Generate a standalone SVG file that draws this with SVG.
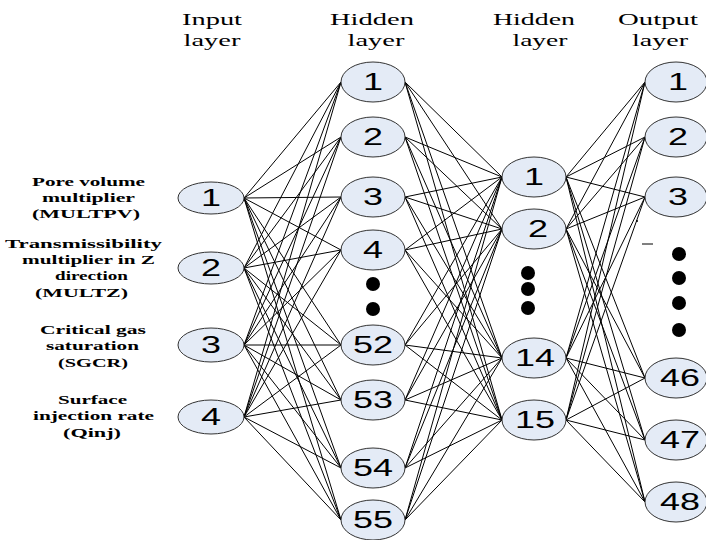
<svg xmlns="http://www.w3.org/2000/svg" width="706" height="540" viewBox="0 0 706 540">
<style>
.hdr{font-family:"Liberation Serif","Times New Roman",serif;font-size:17px;fill:#000;text-anchor:middle}
.lbl{font-family:"Liberation Serif","Times New Roman",serif;font-size:13.5px;font-weight:bold;fill:#000;text-anchor:middle}
.nd ellipse{fill:#E4EBF6;stroke:#333;stroke-width:1}
.nd text{font-family:"Liberation Sans",Arial,sans-serif;font-size:23px;fill:#000;text-anchor:middle}
.cn line{stroke:#000;stroke-width:1}
.dot{fill:#000}
</style>
<rect width="706" height="540" fill="#fff"/>
<g id="headers">
<text class="hdr" x="212" y="25" textLength="60" lengthAdjust="spacingAndGlyphs">Input</text>
<text class="hdr" x="212" y="46" textLength="57" lengthAdjust="spacingAndGlyphs">layer</text>
<text class="hdr" x="372" y="25" textLength="84" lengthAdjust="spacingAndGlyphs">Hidden</text>
<text class="hdr" x="376" y="46" textLength="57" lengthAdjust="spacingAndGlyphs">layer</text>
<text class="hdr" x="534" y="25" textLength="82" lengthAdjust="spacingAndGlyphs">Hidden</text>
<text class="hdr" x="540" y="46" textLength="55" lengthAdjust="spacingAndGlyphs">layer</text>
<text class="hdr" x="658" y="25" textLength="80" lengthAdjust="spacingAndGlyphs">Output</text>
<text class="hdr" x="660" y="46" textLength="56" lengthAdjust="spacingAndGlyphs">layer</text>
</g>
<g id="labels">
<text class="lbl" x="88.5" y="186" textLength="113" lengthAdjust="spacingAndGlyphs">Pore volume</text>
<text class="lbl" x="88.5" y="202" textLength="93" lengthAdjust="spacingAndGlyphs">multiplier</text>
<text class="lbl" x="86" y="218" textLength="108" lengthAdjust="spacingAndGlyphs">(MULTPV)</text>
<text class="lbl" x="83.5" y="248" textLength="157" lengthAdjust="spacingAndGlyphs">Transmissibility</text>
<text class="lbl" x="88.5" y="264" textLength="133" lengthAdjust="spacingAndGlyphs">multiplier in Z</text>
<text class="lbl" x="91.5" y="280" textLength="73" lengthAdjust="spacingAndGlyphs">direction</text>
<text class="lbl" x="81.5" y="297" textLength="93" lengthAdjust="spacingAndGlyphs">(MULTZ)</text>
<text class="lbl" x="93" y="334" textLength="106" lengthAdjust="spacingAndGlyphs">Critical gas</text>
<text class="lbl" x="92.5" y="350" textLength="93" lengthAdjust="spacingAndGlyphs">saturation</text>
<text class="lbl" x="93" y="367" textLength="70" lengthAdjust="spacingAndGlyphs">(SGCR)</text>
<text class="lbl" x="92.5" y="404" textLength="69" lengthAdjust="spacingAndGlyphs">Surface</text>
<text class="lbl" x="93.5" y="420" textLength="121" lengthAdjust="spacingAndGlyphs">injection rate</text>
<text class="lbl" x="92" y="437" textLength="58" lengthAdjust="spacingAndGlyphs">(Qinj)</text>
</g>
<g id="connectors" class="cn">
<line x1="244" y1="198" x2="341" y2="82"/><line x1="244" y1="198" x2="341" y2="137"/><line x1="244" y1="198" x2="341" y2="197"/><line x1="244" y1="198" x2="341" y2="250"/><line x1="244" y1="198" x2="341" y2="345"/><line x1="244" y1="198" x2="341" y2="400"/><line x1="244" y1="198" x2="341" y2="468"/><line x1="244" y1="198" x2="341" y2="520"/>
<line x1="244" y1="268" x2="341" y2="82"/><line x1="244" y1="268" x2="341" y2="137"/><line x1="244" y1="268" x2="341" y2="197"/><line x1="244" y1="268" x2="341" y2="250"/><line x1="244" y1="268" x2="341" y2="345"/><line x1="244" y1="268" x2="341" y2="400"/><line x1="244" y1="268" x2="341" y2="468"/><line x1="244" y1="268" x2="341" y2="520"/>
<line x1="244" y1="345" x2="341" y2="82"/><line x1="244" y1="345" x2="341" y2="137"/><line x1="244" y1="345" x2="341" y2="197"/><line x1="244" y1="345" x2="341" y2="250"/><line x1="244" y1="345" x2="341" y2="345"/><line x1="244" y1="345" x2="341" y2="400"/><line x1="244" y1="345" x2="341" y2="468"/><line x1="244" y1="345" x2="341" y2="520"/>
<line x1="244" y1="417" x2="341" y2="82"/><line x1="244" y1="417" x2="341" y2="137"/><line x1="244" y1="417" x2="341" y2="197"/><line x1="244" y1="417" x2="341" y2="250"/><line x1="244" y1="417" x2="341" y2="345"/><line x1="244" y1="417" x2="341" y2="400"/><line x1="244" y1="417" x2="341" y2="468"/><line x1="244" y1="417" x2="341" y2="520"/>
<line x1="405" y1="82" x2="502" y2="177"/><line x1="405" y1="82" x2="502" y2="229"/><line x1="405" y1="82" x2="502" y2="358"/><line x1="405" y1="82" x2="502" y2="420"/>
<line x1="405" y1="137" x2="502" y2="177"/><line x1="405" y1="137" x2="502" y2="229"/><line x1="405" y1="137" x2="502" y2="358"/><line x1="405" y1="137" x2="502" y2="420"/>
<line x1="405" y1="197" x2="502" y2="177"/><line x1="405" y1="197" x2="502" y2="229"/><line x1="405" y1="197" x2="502" y2="358"/><line x1="405" y1="197" x2="502" y2="420"/>
<line x1="405" y1="250" x2="502" y2="177"/><line x1="405" y1="250" x2="502" y2="229"/><line x1="405" y1="250" x2="502" y2="358"/><line x1="405" y1="250" x2="502" y2="420"/>
<line x1="405" y1="345" x2="502" y2="177"/><line x1="405" y1="345" x2="502" y2="229"/><line x1="405" y1="345" x2="502" y2="358"/><line x1="405" y1="345" x2="502" y2="420"/>
<line x1="405" y1="400" x2="502" y2="177"/><line x1="405" y1="400" x2="502" y2="229"/><line x1="405" y1="400" x2="502" y2="358"/><line x1="405" y1="400" x2="502" y2="420"/>
<line x1="405" y1="468" x2="502" y2="177"/><line x1="405" y1="468" x2="502" y2="229"/><line x1="405" y1="468" x2="502" y2="358"/><line x1="405" y1="468" x2="502" y2="420"/>
<line x1="405" y1="520" x2="502" y2="177"/><line x1="405" y1="520" x2="502" y2="229"/><line x1="405" y1="520" x2="502" y2="358"/><line x1="405" y1="520" x2="502" y2="420"/>
<line x1="566" y1="177" x2="645" y2="82"/><line x1="566" y1="177" x2="645" y2="137"/><line x1="566" y1="177" x2="645" y2="197"/><line x1="566" y1="177" x2="645" y2="378"/><line x1="566" y1="177" x2="645" y2="440"/><line x1="566" y1="177" x2="645" y2="502"/>
<line x1="566" y1="229" x2="645" y2="82"/><line x1="566" y1="229" x2="645" y2="137"/><line x1="566" y1="229" x2="645" y2="197"/><line x1="566" y1="229" x2="645" y2="378"/><line x1="566" y1="229" x2="645" y2="440"/><line x1="566" y1="229" x2="645" y2="502"/>
<line x1="566" y1="358" x2="645" y2="82"/><line x1="566" y1="358" x2="645" y2="137"/><line x1="566" y1="358" x2="645" y2="197"/><line x1="566" y1="358" x2="645" y2="378"/><line x1="566" y1="358" x2="645" y2="440"/><line x1="566" y1="358" x2="645" y2="502"/>
<line x1="566" y1="420" x2="645" y2="82"/><line x1="566" y1="420" x2="645" y2="137"/><line x1="566" y1="420" x2="645" y2="197"/><line x1="566" y1="420" x2="645" y2="378"/><line x1="566" y1="420" x2="645" y2="440"/><line x1="566" y1="420" x2="645" y2="502"/>
</g>
<g id="in1" class="nd"><ellipse cx="211" cy="198" rx="33" ry="16"/><text x="211" y="206" textLength="20" lengthAdjust="spacingAndGlyphs">1</text></g>
<g id="in2" class="nd"><ellipse cx="211" cy="268" rx="33" ry="16"/><text x="211" y="276" textLength="20" lengthAdjust="spacingAndGlyphs">2</text></g>
<g id="in3" class="nd"><ellipse cx="211" cy="345" rx="33" ry="17"/><text x="211" y="353" textLength="20" lengthAdjust="spacingAndGlyphs">3</text></g>
<g id="in4" class="nd"><ellipse cx="211" cy="417" rx="33" ry="17"/><text x="211" y="425" textLength="20" lengthAdjust="spacingAndGlyphs">4</text></g>
<g id="h1_1" class="nd"><ellipse cx="373" cy="82" rx="32" ry="20"/><text x="373" y="90" textLength="20" lengthAdjust="spacingAndGlyphs">1</text></g>
<g id="h1_2" class="nd"><ellipse cx="373" cy="137" rx="32" ry="20"/><text x="373" y="145" textLength="20" lengthAdjust="spacingAndGlyphs">2</text></g>
<g id="h1_3" class="nd"><ellipse cx="373" cy="197" rx="32" ry="20"/><text x="373" y="205" textLength="20" lengthAdjust="spacingAndGlyphs">3</text></g>
<g id="h1_4" class="nd"><ellipse cx="373" cy="250" rx="32" ry="20"/><text x="373" y="258" textLength="20" lengthAdjust="spacingAndGlyphs">4</text></g>
<g id="h1_52" class="nd"><ellipse cx="373" cy="345" rx="32" ry="20"/><text x="373" y="353" textLength="40" lengthAdjust="spacingAndGlyphs">52</text></g>
<g id="h1_53" class="nd"><ellipse cx="373" cy="400" rx="32" ry="20"/><text x="373" y="408" textLength="40" lengthAdjust="spacingAndGlyphs">53</text></g>
<g id="h1_54" class="nd"><ellipse cx="373" cy="468" rx="32" ry="20"/><text x="373" y="476" textLength="40" lengthAdjust="spacingAndGlyphs">54</text></g>
<g id="h1_55" class="nd"><ellipse cx="373" cy="520" rx="32" ry="20"/><text x="373" y="528" textLength="40" lengthAdjust="spacingAndGlyphs">55</text></g>
<g id="h2_1" class="nd"><ellipse cx="534" cy="177" rx="32" ry="20"/><text x="534" y="185" textLength="20" lengthAdjust="spacingAndGlyphs">1</text></g>
<g id="h2_2" class="nd"><ellipse cx="534" cy="229" rx="32" ry="20"/><text x="538" y="237" textLength="20" lengthAdjust="spacingAndGlyphs">2</text></g>
<g id="h2_14" class="nd"><ellipse cx="534" cy="358" rx="32" ry="20"/><text x="535" y="366" textLength="40" lengthAdjust="spacingAndGlyphs">14</text></g>
<g id="h2_15" class="nd"><ellipse cx="534" cy="420" rx="32" ry="20"/><text x="535" y="428" textLength="40" lengthAdjust="spacingAndGlyphs">15</text></g>
<g id="o1" class="nd"><ellipse cx="676" cy="82" rx="31" ry="20"/><text x="678" y="90" textLength="20" lengthAdjust="spacingAndGlyphs">1</text></g>
<g id="o2" class="nd"><ellipse cx="676" cy="137" rx="31" ry="20"/><text x="678" y="145" textLength="20" lengthAdjust="spacingAndGlyphs">2</text></g>
<g id="o3" class="nd"><ellipse cx="676" cy="197" rx="31" ry="20"/><text x="678" y="205" textLength="20" lengthAdjust="spacingAndGlyphs">3</text></g>
<g id="o46" class="nd"><ellipse cx="676" cy="378" rx="31" ry="20"/><text x="680" y="386" textLength="40" lengthAdjust="spacingAndGlyphs">46</text></g>
<g id="o47" class="nd"><ellipse cx="676" cy="440" rx="31" ry="20"/><text x="680" y="448" textLength="40" lengthAdjust="spacingAndGlyphs">47</text></g>
<g id="o48" class="nd"><ellipse cx="676" cy="502" rx="31" ry="20"/><text x="680" y="510" textLength="40" lengthAdjust="spacingAndGlyphs">48</text></g>
<g id="ellipsis">
<circle class="dot" cx="373" cy="284" r="7"/><circle class="dot" cx="373" cy="309" r="7"/>
<circle class="dot" cx="528" cy="273" r="7"/><circle class="dot" cx="528" cy="289" r="7"/><circle class="dot" cx="528" cy="308" r="7"/>
<circle class="dot" cx="679" cy="254" r="7"/><circle class="dot" cx="679" cy="278" r="7"/><circle class="dot" cx="679" cy="303" r="7"/><circle class="dot" cx="679" cy="330" r="7"/>
<circle class="dot" cx="637" cy="221" r="1"/>
<line x1="642" y1="244" x2="653" y2="244" stroke="#000" stroke-width="1"/>
</g>
</svg>
